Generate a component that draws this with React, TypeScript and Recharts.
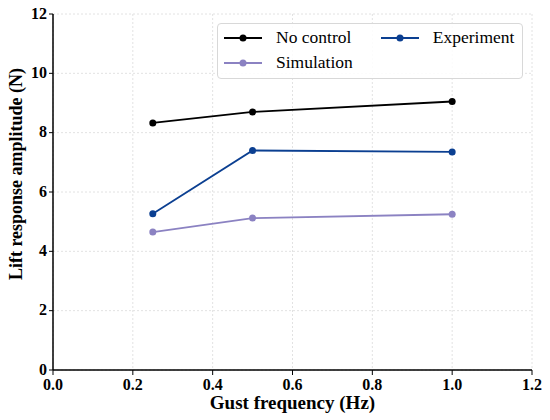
import React from 'react';
import { LineChart, Line, XAxis, YAxis, CartesianGrid } from 'recharts';

const frequencies = [0.25, 0.5, 1.0];
const noControl = [8.33, 8.7, 9.05];
const simulation = [4.65, 5.12, 5.25];
const experiment = [5.27, 7.4, 7.35];
const xTicks = [0, 0.2, 0.4, 0.6, 0.8, 1.0, 1.2];
const yTicks = [0, 2, 4, 6, 8, 10, 12];

const FONT = '"Liberation Serif", "Times New Roman", serif';

const series = [
  { key: 'noControl', name: 'No control', color: '#000000' },
  { key: 'simulation', name: 'Simulation', color: '#8b82c2' },
  { key: 'experiment', name: 'Experiment', color: '#0b3f91' },
];

const data = frequencies.map((f, i) => ({
  f,
  noControl: noControl[i],
  simulation: simulation[i],
  experiment: experiment[i],
}));

function LegendBox() {
  return (
    <div
      style={{
        position: 'absolute',
        left: 217,
        top: 23,
        width: 306,
        height: 56,
        border: '1px solid #d8d8d8',
        borderRadius: 4,
        background: 'rgba(255,255,255,0.85)',
        padding: '1px 8px 3px 6px',
        display: 'grid',
        gridTemplateRows: '25px 25px',
        gridAutoFlow: 'column',
        columnGap: 28,
        fontFamily: FONT,
        fontSize: 17.5,
        boxSizing: 'border-box',
      }}
    >
      {series.map((s) => (
        <div key={s.key} style={{ display: 'flex', alignItems: 'center' }}>
          <svg width={40} height={10} style={{ marginRight: 12 }}>
            <line x1={0} y1={5} x2={38} y2={5} stroke={s.color} strokeWidth={2} />
            <circle cx={19} cy={5} r={3.5} fill={s.color} />
          </svg>
          <span>{s.name}</span>
        </div>
      ))}
    </div>
  );
}

function YTitle(props: any) {
  const vb = props.viewBox;
  const cx = 16;
  const cy = vb.y + vb.height / 2 - 18;
  return (
    <text
      x={cx}
      y={cy}
      transform={`rotate(-90, ${cx}, ${cy})`}
      textAnchor="middle"
      dominantBaseline="central"
      style={{ fontFamily: FONT, fontSize: 18, fontWeight: 'bold', fill: '#000' }}
    >
      Lift response amplitude (N)
    </text>
  );
}

export default function App() {
  const tickStyle = { fontFamily: FONT, fontSize: 16, fontWeight: 'bold', fill: '#000' };
  const titleStyle = { fontFamily: FONT, fontSize: 19, fontWeight: 'bold', fill: '#000', textAnchor: 'middle' as const };
  return (
    <div style={{ position: 'absolute', left: 0, top: 0, width: 550, height: 420, background: '#fff' }}>
      <LineChart width={550} height={420} data={data} margin={{ top: 14, right: 18, bottom: 0, left: 0 }}>
        <CartesianGrid stroke="#e2e2e2" strokeDasharray="2 2" />
        <XAxis
          dataKey="f"
          type="number"
          domain={[0, 1.2]}
          ticks={xTicks}
          tickFormatter={(v: number) => v.toFixed(1)}
          tick={{ ...tickStyle, dy: 2 }}
          tickSize={5}
          tickLine={{ stroke: '#000' }}
          axisLine={{ stroke: '#000', strokeWidth: 1.5 }}
          height={50}
          label={{ value: 'Gust frequency (Hz)', position: 'insideBottom', offset: 11, style: titleStyle }}
        />
        <XAxis xAxisId="top" orientation="top" type="number" domain={[0, 1.2]} tick={false} tickLine={false} height={0} axisLine={{ stroke: '#000', strokeWidth: 1.5 }} />
        <YAxis
          type="number"
          domain={[0, 12]}
          ticks={yTicks}
          tick={{ ...tickStyle, dy: -1 }}
          tickSize={4}
          tickLine={{ stroke: '#000' }}
          axisLine={{ stroke: '#000', strokeWidth: 1.5 }}
          width={53}
          label={<YTitle />}
        />
        <YAxis yAxisId="right" orientation="right" domain={[0, 12]} tick={false} tickLine={false} width={0} axisLine={{ stroke: '#000', strokeWidth: 1.5 }} />
        {series.map((s) => (
          <Line
            key={s.key}
            dataKey={s.key}
            name={s.name}
            stroke={s.color}
            strokeWidth={1.8}
            dot={{ r: 3.5, fill: s.color, stroke: s.color, strokeWidth: 0 }}
            isAnimationActive={false}
          />
        ))}
      </LineChart>
      <LegendBox />
    </div>
  );
}
